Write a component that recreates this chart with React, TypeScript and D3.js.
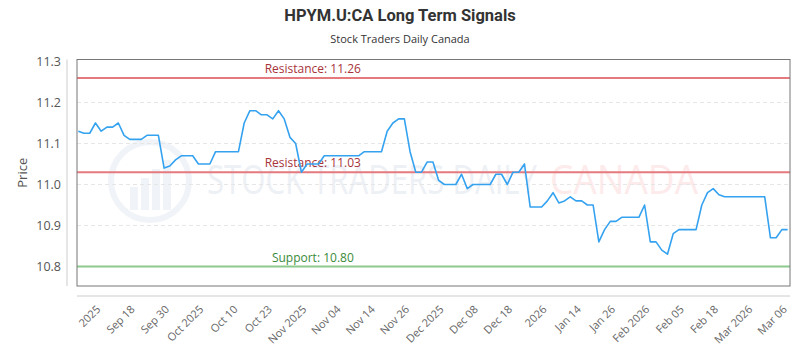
import React from 'react';
import * as d3 from 'd3';

// closing prices, one per session
const prices = [
  11.13, 11.125, 11.125, 11.15, 11.13, 11.14, 11.14, 11.15, 11.12, 11.11,
  11.11, 11.11, 11.12, 11.12, 11.12, 11.04, 11.045, 11.06, 11.07, 11.07,
  11.07, 11.05, 11.05, 11.05, 11.08, 11.08, 11.08, 11.08, 11.08, 11.15,
  11.18, 11.18, 11.17, 11.17, 11.16, 11.18, 11.16, 11.115, 11.1, 11.03,
  11.05, 11.05, 11.05, 11.07, 11.07, 11.07, 11.07, 11.07, 11.07, 11.07,
  11.08, 11.08, 11.08, 11.08, 11.13, 11.15, 11.16, 11.16, 11.08, 11.03,
  11.03, 11.055, 11.055, 11.01, 11.0, 11.0, 11.0, 11.025, 10.99, 11.0,
  11.0, 11.0, 11.0, 11.025, 11.025, 11.0, 11.03, 11.03, 11.05, 10.945,
  10.945, 10.945, 10.96, 10.98, 10.955, 10.96, 10.97, 10.96, 10.96, 10.95,
  10.95, 10.86, 10.89, 10.91, 10.91, 10.92, 10.92, 10.92, 10.92, 10.95,
  10.86, 10.86, 10.84, 10.83, 10.88, 10.89, 10.89, 10.89, 10.89, 10.95,
  10.98, 10.99, 10.975, 10.97, 10.97, 10.97, 10.97, 10.97, 10.97, 10.97,
  10.97, 10.87, 10.87, 10.89, 10.89,
];

// x axis labels, shown every 6th session starting at session 4
const tickLabels = [
  '2025', 'Sep 18', 'Sep 30', 'Oct 2025', 'Oct 10', 'Oct 23', 'Nov 2025',
  'Nov 04', 'Nov 14', 'Nov 26', 'Dec 2025', 'Dec 08', 'Dec 18', '2026',
  'Jan 14', 'Jan 26', 'Feb 2026', 'Feb 05', 'Feb 18', 'Mar 2026', 'Mar 06',
];
const firstTick = 4;
const tickEvery = 6;

const yTicks = [10.8, 10.9, 11.0, 11.1, 11.2, 11.3];

const levels = [
  { label: 'Resistance: 11.26', value: 11.26, kind: 'res' },
  { label: 'Resistance: 11.03', value: 11.03, kind: 'res' },
  { label: 'Support: 10.80', value: 10.8, kind: 'sup' },
];

const W = 800;
const H = 350;
const plot = { left: 77, right: 790, top: 59.5, bottom: 286 };
const font = '"Open Sans", "DejaVu Sans", sans-serif';

export default function App() {
  const x = d3.scaleLinear()
    .domain([0, prices.length - 1])
    .range([78.3, 787.6]);
  const y = d3.scaleLinear()
    .domain([10.8, 11.3])
    .range([266.5, 61.5]);

  const line = d3.line<number>()
    .x((_, i) => x(i))
    .y(d => y(d));

  const labelX = x(41);

  return (
    <svg width={W} height={H} style={{ position: 'absolute', left: 0, top: 0, background: '#fff' }}>
      {/* titles */}
      <text x={400} y={21} textAnchor="middle" fontFamily='Roboto, "Open Sans", sans-serif'
        fontWeight="bold" fontSize={16.5} fill="#333">HPYM.U:CA Long Term Signals</text>
      <text x={400} y={43} textAnchor="middle" fontFamily={font} fontSize={11} fill="#333">
        Stock Traders Daily Canada</text>

      {/* watermark */}
      <g opacity={0.45}>
        <circle cx={150} cy={181} r={39} fill="none" stroke="#dfe5ee" strokeWidth={6} />
        {[0, 1, 2, 3].map(i => (
          <rect key={i} x={130 + i * 11} y={196 - (i + 1) * 9} width={8} height={(i + 1) * 9 + 14}
            fill="#dfe5ee" />
        ))}
        <text x={207} y={194} fontFamily={font} fontSize={40} fill="#d9e0ea"
          textLength={330} lengthAdjust="spacingAndGlyphs">STOCK TRADERS DAILY</text>
        <text x={550} y={194} fontFamily={font} fontSize={40} fill="#fbd3d6"
          textLength={148} lengthAdjust="spacingAndGlyphs">CANADA</text>
      </g>

      {/* grid */}
      {yTicks.slice(1, 5).map(t => (
        <line key={t} x1={plot.left} x2={plot.right} y1={y(t)} y2={y(t)}
          stroke="#e6e6e6" strokeDasharray="4,3" />
      ))}

      {/* y axis */}
      <line x1={67} x2={67} y1={plot.top} y2={plot.bottom} stroke="#ccc" />
      {yTicks.map(t => (
        <text key={t} x={61} y={y(t) + 4.5} textAnchor="end" fontFamily={font} fontSize={12.5}
          fill="#555">{d3.format('.1f')(t)}</text>
      ))}
      <text transform={`translate(27,${(plot.top + plot.bottom) / 2}) rotate(-90)`} textAnchor="middle"
        fontFamily={font} fontSize={13} fill="#555">Price</text>

      {/* support / resistance */}
      {levels.map(l => (
        <g key={l.label}>
          <line x1={plot.left} x2={plot.right} y1={y(l.value)} y2={y(l.value)}
            stroke={l.kind === 'res' ? '#e57a7e' : '#8cc98c'} strokeWidth={2} />
          <text x={labelX} y={y(l.value) - 5} textAnchor="middle" fontFamily={font} fontSize={12}
            fill={l.kind === 'res' ? '#a8343a' : '#3a8a3a'}>{l.label}</text>
        </g>
      ))}

      {/* price line */}
      <path d={line(prices) ?? ''} fill="none" stroke="#35a2f0" strokeWidth={1.6} strokeLinejoin="round" />

      {/* plot frame */}
      <rect x={plot.left} y={plot.top} width={plot.right - plot.left} height={plot.bottom - plot.top}
        fill="none" stroke="#777" />

      {/* x axis */}
      <line x1={plot.left} x2={plot.right} y1={296} y2={296} stroke="#ccc" />
      {tickLabels.map((lab, k) => {
        const px = x(firstTick + k * tickEvery);
        return (
          <text key={lab} transform={`translate(${px},310) rotate(-45)`} textAnchor="end"
            fontFamily={font} fontSize={11} fill="#666">{lab}</text>
        );
      })}
    </svg>
  );
}
